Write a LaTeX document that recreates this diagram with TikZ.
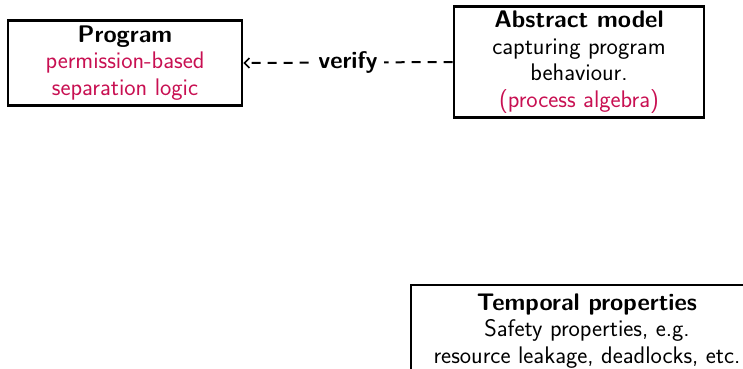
\documentclass[tikz,border=0pt]{standalone}
\usetikzlibrary{arrows.meta}
\definecolor{accent}{RGB}{200,16,82}
\begin{document}
\begin{tikzpicture}[x=1pt,y=-1pt,
  box/.style={draw=black,line width=2.6pt,align=center,inner sep=0pt,
    font=\sffamily\fontsize{24}{26.5}\selectfont},
  link/.style={line width=2pt,dash pattern=on 9pt off 7pt,
    -{Straight Barb[length=5pt,width=10pt,line width=1.6pt]}},
  tag/.style={fill=white,inner sep=6pt,font=\sffamily\bfseries\fontsize{24}{26}\selectfont}]
  \useasboundingbox (0,0) rectangle (743,368);
  \clip (0,0) rectangle (743,368);

  \node[box,minimum width=234pt,minimum height=85pt] (prog) at (125,63)
    {\textbf{Program}\\ \textcolor{accent}{permission-based}\\ \textcolor{accent}{separation logic}};

  \node[box,minimum width=250pt,minimum height=111pt] (model) at (579,62)
    {\textbf{Abstract model}\\ capturing program\ \\ behaviour.\\ \textcolor{accent}{(process algebra)}};

  \node[box,minimum width=352pt,minimum height=92pt] (temp) at (587,331)
    {\textbf{Temporal properties}\\ Safety properties, e.g.\\ resource leakage, deadlocks, etc.};

  \draw[link] (model.west) -- node[tag] (verify) {verify} (prog.east);
\end{tikzpicture}
\end{document}
